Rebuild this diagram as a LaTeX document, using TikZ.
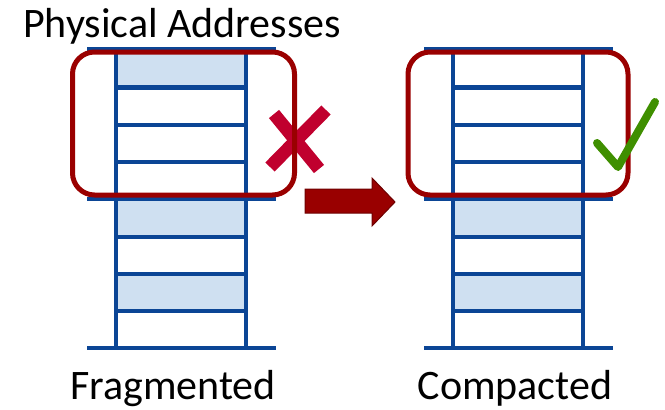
\documentclass[tikz,border=0pt]{standalone}
\usepackage{fontspec}
\setmainfont{Carlito}
\definecolor{memblue}{HTML}{0B4595}
\definecolor{usedfill}{HTML}{CFE0F1}
\definecolor{boxred}{HTML}{9A0000}
\definecolor{arrowred}{HTML}{990000}
\definecolor{arrowedge}{HTML}{6E0000}
\definecolor{crossred}{HTML}{C0002E}
\definecolor{tickgreen}{HTML}{3F8F00}

\begin{document}
\begin{tikzpicture}[x=1pt,y=-1pt,
  memline/.style={memblue, line width=4.5pt},
  used/.style={fill=usedfill},
  window/.style={draw=boxred, line width=5pt, rounded corners=22pt, inner sep=0pt},
  caption/.style={font=\fontsize{42}{50}\selectfont, anchor=base, inner sep=0pt}]
\useasboundingbox (0,0) rectangle (665,410);

% ---- memory column (drawn twice, shifted) ----
% left: fragmented memory
\fill[used] (116,49) rectangle (246,87.5);
\fill[used] (116,199) rectangle (246,237);
\fill[used] (116,274) rectangle (246,311);
% right: compacted memory
\fill[used] (453,199) rectangle (583,237);
\fill[used] (453,274) rectangle (583,311);

\foreach \dx in {0,337}{
  \begin{scope}[xshift=\dx pt]
    \foreach \yy in {49,199,348}
      \draw[memline] (87,\yy) -- (276,\yy);
    \foreach \yy in {87.5,125,162,237,274,311}
      \draw[memline] (116,\yy) -- (246,\yy);
    \draw[memline] (116,49) -- (116,348);
    \draw[memline] (246,49) -- (246,348);
  \end{scope}
}

% ---- failure mark ----
\draw[crossred, line width=13pt] (274,114) -- (319,169);
\draw[crossred, line width=13pt] (326,110) -- (270,167);

% ---- selection windows ----
\node[window, minimum width=222pt, minimum height=143pt] (fragwin) at (183.5,123.5) {};
\node[window, minimum width=220pt, minimum height=143pt] (compwin) at (518,123.5) {};

% ---- block arrow between the two states ----
\coordinate (a1) at (305,189);
\coordinate (a2) at (372,189);
\coordinate (a3) at (372,178);
\coordinate (tip) at (395,202);
\coordinate (a5) at (372,226);
\coordinate (a6) at (372,213);
\coordinate (a7) at (305,213);
\filldraw[fill=arrowred, draw=arrowedge, line width=1pt, line join=miter]
  (a1) -- (a2) -- (a3) -- (tip) -- (a5) -- (a6) -- (a7) -- cycle;

% ---- success mark ----
\draw[tickgreen, line width=8pt, line cap=round, line join=round]
  (597,143) -- (618,167) -- (655,102);

% ---- labels ----
\node[caption] (title) at (182,37) {Physical Addresses};
\node[caption] (fraglabel) at (173,399) {Fragmented};
\node[caption] (complabel) at (515,399) {Compacted};
\end{tikzpicture}
\end{document}
